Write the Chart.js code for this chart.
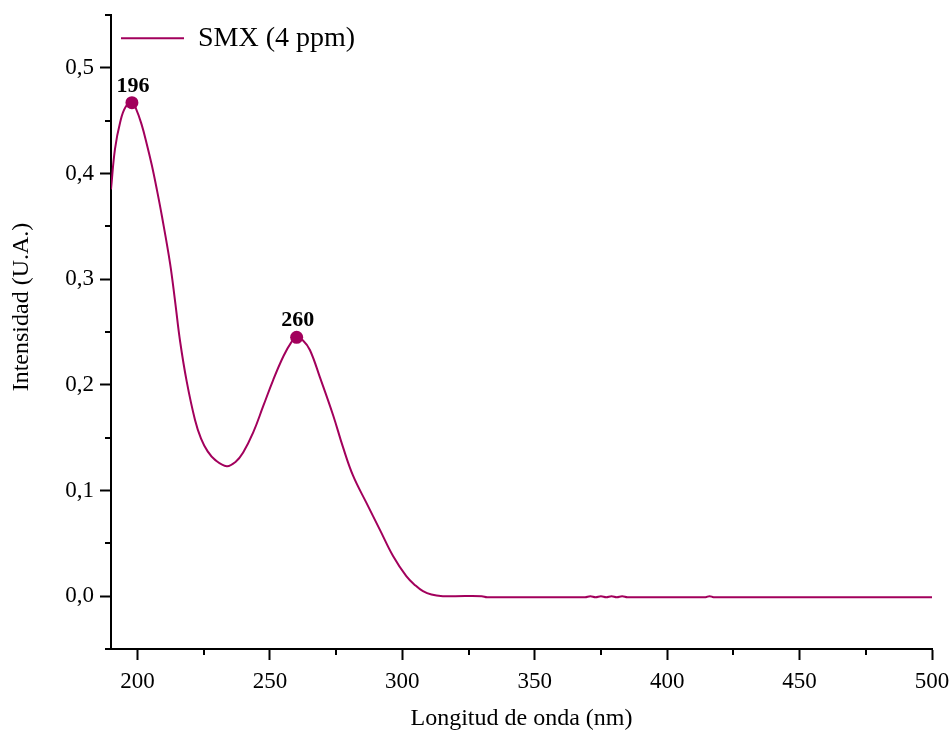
<!DOCTYPE html>
<html>
<head>
<meta charset="utf-8">
<script src="https://cdn.jsdelivr.net/npm/chart.js@4"></script>
<style>
  html, body { margin: 0; padding: 0; background: #fff; }
  #wrap { width: 951px; height: 733px; }
</style>
</head>
<body>
<div id="wrap"><canvas id="uvChart" width="951" height="733"></canvas></div>
<script>
// Wavelength (nm) and intensity
const wavelengths = [190, 191.5, 193.5, 195.5, 197.9, 199.5, 201.6, 203.5, 205.4, 207.3, 209.2, 212.3, 214.2, 216.1, 218.6, 221.7, 224, 226.5, 229.3, 233.7, 237, 239.9, 243.7, 247.5, 251.3, 255.1, 258, 260.1, 262.5, 265.1, 268.9, 273.9, 277.6, 281.4, 286.5, 291.5, 296.5, 301.5, 305, 307.8, 311, 315.3, 320, 330, 332, 340, 350, 360, 369, 371, 373, 375, 377, 379, 381, 383, 385, 390, 400, 410, 414.5, 416, 417.5, 420, 430, 440, 450, 460, 470, 480, 490, 500];
const intensity = [0.385, 0.423, 0.449, 0.463, 0.467, 0.461, 0.446, 0.428, 0.408, 0.385, 0.360, 0.315, 0.279, 0.241, 0.203, 0.167, 0.149, 0.137, 0.129, 0.123, 0.127, 0.136, 0.155, 0.180, 0.205, 0.227, 0.240, 0.245, 0.242, 0.233, 0.207, 0.171, 0.141, 0.114, 0.088, 0.063, 0.038, 0.019, 0.010, 0.0047, 0.0015, 0.0, 0.0, 0.0, -0.001, -0.001, -0.001, -0.001, -0.001, 0.0, -0.001, 0.0, -0.001, 0.0, -0.001, 0.0, -0.001, -0.001, -0.001, -0.001, -0.001, 0.0, -0.001, -0.001, -0.001, -0.001, -0.001, -0.001, -0.001, -0.001, -0.001, -0.001];

// Marked peaks
const peakX = [197.9, 260.1];
const peakY = [0.467, 0.245];
const peakLabels = ['196', '260'];

// Axis ticks
const xMajorTicks = [200, 250, 300, 350, 400, 450, 500];
const xMinorTicks = [225, 275, 325, 375, 425, 475];
const yMajorTicks = [0, 0.1, 0.2, 0.3, 0.4, 0.5];
const yMinorTicks = [-0.05, 0.05, 0.15, 0.25, 0.35, 0.45, 0.55];

const seriesName = 'SMX (4 ppm)';
const xTitle = 'Longitud de onda (nm)';
const yTitle = 'Intensidad (U.A.)';

const lineColor = '#a2005c';
const serif = "'Liberation Serif', 'DejaVu Serif', serif";

// Minor ticks, peak labels and the y title drawn on top
const extrasPlugin = {
  id: 'extras',
  afterDraw(chart) {
    const ctx = chart.ctx;
    const xs = chart.scales.x, ys = chart.scales.y;
    ctx.save();
    ctx.strokeStyle = '#000';
    ctx.lineWidth = 2;
    ctx.beginPath();
    xMinorTicks.forEach(v => {
      const px = Math.round(xs.getPixelForValue(v));
      ctx.moveTo(px, xs.top);
      ctx.lineTo(px, xs.top + 6);
    });
    yMinorTicks.forEach(v => {
      const py = Math.round(ys.getPixelForValue(v));
      ctx.moveTo(ys.right, py);
      ctx.lineTo(ys.right - 6, py);
    });
    // bottom spine runs a little past the y axis
    ctx.moveTo(ys.right - 5, xs.top);
    ctx.lineTo(ys.right, xs.top);
    ctx.stroke();

    // peak labels
    const meta = chart.getDatasetMeta(1);
    ctx.fillStyle = '#000';
    ctx.font = 'bold 22px ' + serif;
    ctx.textAlign = 'center';
    ctx.textBaseline = 'alphabetic';
    meta.data.forEach((pt, i) => {
      ctx.fillText(peakLabels[i], pt.x + 1, pt.y - 11);
    });

    // y axis title
    ctx.font = '24px ' + serif;
    ctx.textBaseline = 'middle';
    ctx.translate(22, 307);
    ctx.rotate(-Math.PI / 2);
    ctx.fillText(yTitle, 0, 0);
    ctx.restore();
  }
};

const ctx = document.getElementById('uvChart').getContext('2d');
new Chart(ctx, {
  type: 'line',
  data: {
    datasets: [
      {
        label: seriesName,
        data: wavelengths.map((w, i) => ({ x: w, y: intensity[i] })),
        borderColor: lineColor,
        backgroundColor: lineColor,
        borderWidth: 2,
        pointRadius: 0,
        tension: 0.4,
        fill: false
      },
      {
        label: 'peaks',
        data: peakX.map((w, i) => ({ x: w, y: peakY[i] })),
        showLine: false,
        pointRadius: 6.5,
        pointBackgroundColor: lineColor,
        pointBorderColor: lineColor,
        pointBorderWidth: 0
      }
    ]
  },
  options: {
    responsive: false,
    animation: false,
    layout: { padding: { top: 15, right: 19, left: 0, bottom: 0 } },
    plugins: {
      legend: {
        position: 'chartArea',
        align: 'start',
        title: { display: true, text: '', font: { size: 1 }, padding: { top: 0, bottom: 13 } },
        labels: {
          filter: item => item.datasetIndex === 0,
          usePointStyle: true,
          pointStyle: 'line',
          pointStyleWidth: 63,
          color: '#000',
          font: { family: serif, size: 28 },
          padding: 10
        }
      },
      tooltip: { enabled: false }
    },
    scales: {
      x: {
        type: 'linear',
        min: 190,
        max: 500,
        afterBuildTicks: s => { s.ticks = xMajorTicks.map(v => ({ value: v })); },
        afterFit: s => { s.height = 84; s.paddingLeft = 0; s.paddingRight = 0; },
        grid: { drawOnChartArea: false, drawTicks: true, tickLength: 11, tickWidth: 2, tickColor: '#000' },
        border: { display: true, color: '#000', width: 2 },
        ticks: { color: '#000', font: { family: serif, size: 23 }, padding: 8, maxRotation: 0 },
        title: { display: true, text: xTitle, color: '#000', font: { family: serif, size: 24 }, padding: { top: 0, bottom: 0 } }
      },
      y: {
        type: 'linear',
        min: -0.05,
        max: 0.55,
        afterBuildTicks: s => { s.ticks = yMajorTicks.map(v => ({ value: v })); },
        afterFit: s => { s.width = 111; s.paddingTop = 0; s.paddingBottom = 0; },
        grid: { drawOnChartArea: false, drawTicks: true, tickLength: 11, tickWidth: 2, tickColor: '#000' },
        border: { display: true, color: '#000', width: 2 },
        ticks: {
          color: '#000',
          font: { family: serif, size: 23 },
          padding: 6,
          callback: v => v.toFixed(1).replace('.', ',')
        }
      }
    }
  },
  plugins: [extrasPlugin]
});
</script>
</body>
</html>
